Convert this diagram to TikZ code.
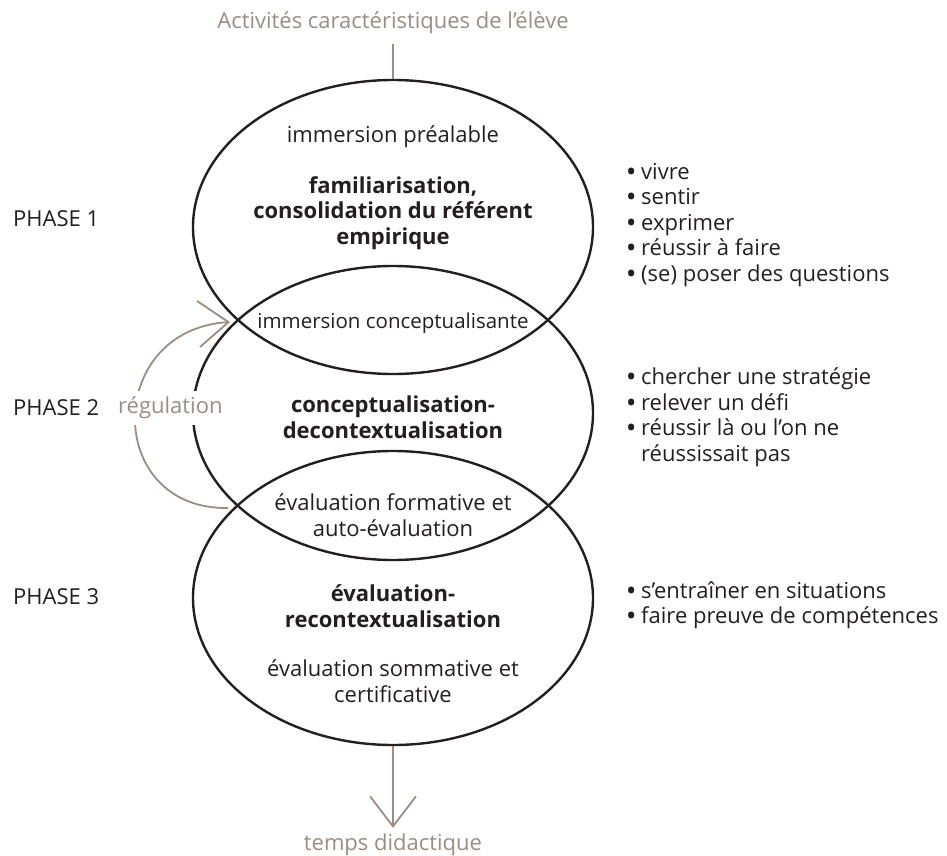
\documentclass[tikz,border=0pt]{standalone}
\usepackage{fontspec}
\setmainfont{Open Sans}
\usetikzlibrary{shapes.geometric,arrows.meta}
\definecolor{taupe}{RGB}{154,141,130}
\definecolor{ink}{RGB}{35,31,32}
\newcommand\bulmark{\makebox[14pt][l]{\bfseries •}}
\begin{document}
\begin{tikzpicture}[x=1pt,y=-1pt,
  oval/.style={draw=ink,line width=2.4pt,ellipse,minimum width=400pt,minimum height=294pt,inner sep=0pt},
  txt/.style={font=\fontsize{22}{25.5}\selectfont,text=ink,align=center,inner sep=0pt},
  boldtxt/.style={font=\fontsize{22}{25.5}\selectfont\bfseries,text=ink,align=center,inner sep=0pt},
  greytxt/.style={font=\fontsize{22}{25.5}\selectfont,text=taupe,inner sep=0pt},
  listtxt/.style={font=\fontsize{22}{25.5}\selectfont,text=ink,align=left,inner sep=0pt,anchor=west},
  flow/.style={draw=taupe,line width=1.8pt},
  barb/.style={-{Straight Barb[length=30pt,width=46pt]}}
]
\useasboundingbox (0,0) rectangle (947,856);

% ellipses
\node[oval] (e1) at (393,227) {};
\node[oval] (e2) at (393,413) {};
\node[oval] (e3) at (393,598) {};

% labels top / bottom
\node[greytxt] (top) at (393,23) {Activités caractéristiques de l’élève};
\node[greytxt] (bot) at (393,845) {temps didactique};
\draw[flow,shorten <=10pt] (top.south) -- (e1.north);
\draw[flow,barb,shorten >=6pt] (e3.south) -- (bot.north);

% texts in the ellipses
\node[txt] (t1) at (393,137) {immersion préalable};
\node[boldtxt] (t2) at (393,213) {familiarisation,\\consolidation du référent\\empirique};
\node[txt,font=\fontsize{20.5}{25.5}\selectfont] (t3) at (393,323) {immersion conceptualisante};
\node[boldtxt] (t4) at (393,417) {conceptualisation-\\decontextualisation};
\node[txt] (t5) at (393,515) {évaluation formative et\\auto-évaluation};
\node[boldtxt] (t6) at (393,606) {évaluation-\\recontextualisation};
\node[txt] (t7) at (393,681) {évaluation sommative et\\certificative};

% phases
\node[listtxt] (p1) at (13,219) {PHASE 1};
\node[listtxt] (p2) at (13,408) {PHASE 2};
\node[listtxt] (p3) at (13,597) {PHASE 3};

% activity lists
\node[listtxt] (l1) at (627,225) {\bulmark vivre\\\bulmark sentir\\\bulmark exprimer\\\bulmark réussir à faire\\\bulmark (se) poser des questions};
\node[listtxt] (l2) at (627,417) {\bulmark chercher une stratégie\\\bulmark relever un défi\\\bulmark réussir là ou l’on ne\\\phantom{\bulmark}réussissait pas};
\node[listtxt] (l3) at (627,605) {\bulmark s’entraîner en situations\\\bulmark faire preuve de compétences};

% regulation loop
\coordinate (rs) at (228,508);
\coordinate (re) at (230,322);
\draw[flow,barb] (rs) .. controls (104,510) and (104,330) .. (re);
\node[greytxt,fill=white,inner ysep=6pt,inner xsep=1pt,anchor=west] (reg) at (117,408) {régulation};
\end{tikzpicture}
\end{document}
